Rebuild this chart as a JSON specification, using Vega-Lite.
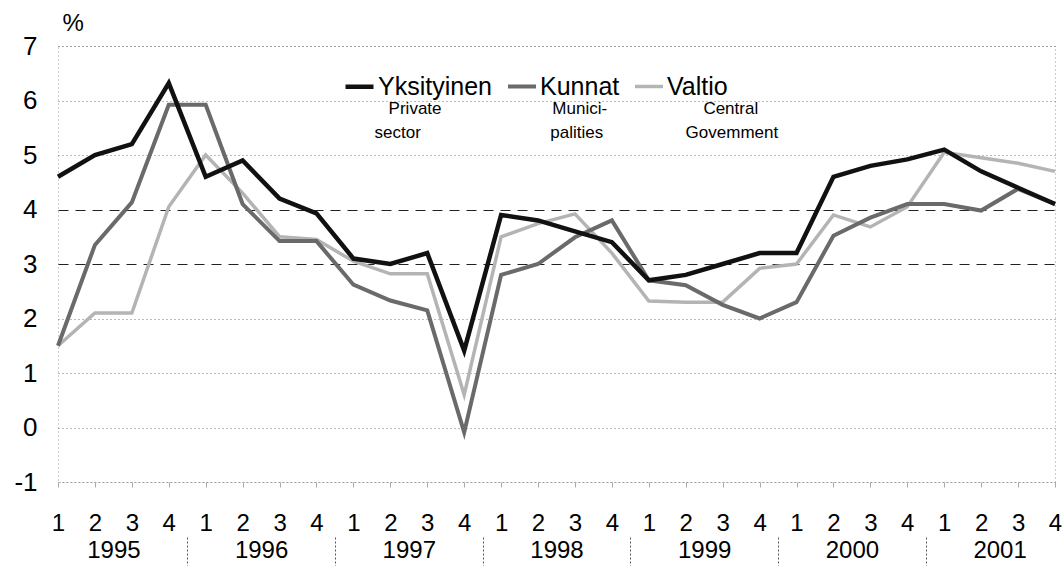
{
  "$schema": "https://vega.github.io/schema/vega-lite/v6.json",
  "width": 997,
  "height": 436,
  "autosize": {"type": "none"},
  "padding": {"left": 58, "top": 46, "right": 8, "bottom": 84},
  "background": "white",
  "config": {
    "font": "Liberation Sans",
    "view": {"stroke": "#999999", "strokeDash": [1, 3], "strokeWidth": 1}
  },
  "datasets": {
    "series": [
      {"i": 0, "series": "Valtio", "value": 1.5}, {"i": 1, "series": "Valtio", "value": 2.1}, {"i": 2, "series": "Valtio", "value": 2.1}, {"i": 3, "series": "Valtio", "value": 4.05},
      {"i": 4, "series": "Valtio", "value": 5.0}, {"i": 5, "series": "Valtio", "value": 4.3}, {"i": 6, "series": "Valtio", "value": 3.5}, {"i": 7, "series": "Valtio", "value": 3.45},
      {"i": 8, "series": "Valtio", "value": 3.05}, {"i": 9, "series": "Valtio", "value": 2.82}, {"i": 10, "series": "Valtio", "value": 2.82}, {"i": 11, "series": "Valtio", "value": 0.6},
      {"i": 12, "series": "Valtio", "value": 3.5}, {"i": 13, "series": "Valtio", "value": 3.74}, {"i": 14, "series": "Valtio", "value": 3.92}, {"i": 15, "series": "Valtio", "value": 3.2},
      {"i": 16, "series": "Valtio", "value": 2.32}, {"i": 17, "series": "Valtio", "value": 2.3}, {"i": 18, "series": "Valtio", "value": 2.3}, {"i": 19, "series": "Valtio", "value": 2.92},
      {"i": 20, "series": "Valtio", "value": 3.0}, {"i": 21, "series": "Valtio", "value": 3.9}, {"i": 22, "series": "Valtio", "value": 3.68}, {"i": 23, "series": "Valtio", "value": 4.05},
      {"i": 24, "series": "Valtio", "value": 5.05}, {"i": 25, "series": "Valtio", "value": 4.95}, {"i": 26, "series": "Valtio", "value": 4.85}, {"i": 27, "series": "Valtio", "value": 4.7},
      {"i": 0, "series": "Kunnat", "value": 1.5}, {"i": 1, "series": "Kunnat", "value": 3.35}, {"i": 2, "series": "Kunnat", "value": 4.13}, {"i": 3, "series": "Kunnat", "value": 5.92},
      {"i": 4, "series": "Kunnat", "value": 5.92}, {"i": 5, "series": "Kunnat", "value": 4.1}, {"i": 6, "series": "Kunnat", "value": 3.42}, {"i": 7, "series": "Kunnat", "value": 3.42},
      {"i": 8, "series": "Kunnat", "value": 2.62}, {"i": 9, "series": "Kunnat", "value": 2.33}, {"i": 10, "series": "Kunnat", "value": 2.15}, {"i": 11, "series": "Kunnat", "value": -0.09},
      {"i": 12, "series": "Kunnat", "value": 2.8}, {"i": 13, "series": "Kunnat", "value": 3.0}, {"i": 14, "series": "Kunnat", "value": 3.49}, {"i": 15, "series": "Kunnat", "value": 3.8},
      {"i": 16, "series": "Kunnat", "value": 2.7}, {"i": 17, "series": "Kunnat", "value": 2.61}, {"i": 18, "series": "Kunnat", "value": 2.25}, {"i": 19, "series": "Kunnat", "value": 2.0},
      {"i": 20, "series": "Kunnat", "value": 2.3}, {"i": 21, "series": "Kunnat", "value": 3.52}, {"i": 22, "series": "Kunnat", "value": 3.85}, {"i": 23, "series": "Kunnat", "value": 4.1},
      {"i": 24, "series": "Kunnat", "value": 4.1}, {"i": 25, "series": "Kunnat", "value": 3.98}, {"i": 26, "series": "Kunnat", "value": 4.38}, {"i": 27, "series": "Kunnat", "value": 4.1},
      {"i": 0, "series": "Yksityinen", "value": 4.6}, {"i": 1, "series": "Yksityinen", "value": 5.0}, {"i": 2, "series": "Yksityinen", "value": 5.2}, {"i": 3, "series": "Yksityinen", "value": 6.32},
      {"i": 4, "series": "Yksityinen", "value": 4.6}, {"i": 5, "series": "Yksityinen", "value": 4.9}, {"i": 6, "series": "Yksityinen", "value": 4.2}, {"i": 7, "series": "Yksityinen", "value": 3.93},
      {"i": 8, "series": "Yksityinen", "value": 3.1}, {"i": 9, "series": "Yksityinen", "value": 3.0}, {"i": 10, "series": "Yksityinen", "value": 3.2}, {"i": 11, "series": "Yksityinen", "value": 1.41},
      {"i": 12, "series": "Yksityinen", "value": 3.9}, {"i": 13, "series": "Yksityinen", "value": 3.8}, {"i": 14, "series": "Yksityinen", "value": 3.6}, {"i": 15, "series": "Yksityinen", "value": 3.4},
      {"i": 16, "series": "Yksityinen", "value": 2.7}, {"i": 17, "series": "Yksityinen", "value": 2.8}, {"i": 18, "series": "Yksityinen", "value": 3.0}, {"i": 19, "series": "Yksityinen", "value": 3.2},
      {"i": 20, "series": "Yksityinen", "value": 3.2}, {"i": 21, "series": "Yksityinen", "value": 4.6}, {"i": 22, "series": "Yksityinen", "value": 4.8}, {"i": 23, "series": "Yksityinen", "value": 4.92},
      {"i": 24, "series": "Yksityinen", "value": 5.1}, {"i": 25, "series": "Yksityinen", "value": 4.7}, {"i": 26, "series": "Yksityinen", "value": 4.4}, {"i": 27, "series": "Yksityinen", "value": 4.1}
    ],
    "notes": [
      {"text": "Private", "i": 9.67, "v": 5.85},
      {"text": "sector", "i": 9.2, "v": 5.4},
      {"text": "Munici-", "i": 14.13, "v": 5.85},
      {"text": "palities", "i": 14.05, "v": 5.4},
      {"text": "Central", "i": 18.22, "v": 5.85},
      {"text": "Govemment", "i": 18.25, "v": 5.4}
    ]
  },
  "layer": [
    {
      "data": {"name": "series"},
      "mark": {"type": "line", "strokeJoin": "miter", "strokeCap": "butt"},
      "encoding": {
        "x": {
          "field": "i", "type": "quantitative",
          "scale": {"domain": [0, 27], "nice": false, "zero": false},
          "axis": {
            "values": [0,1,2,3,4,5,6,7,8,9,10,11,12,13,14,15,16,17,18,19,20,21,22,23,24,25,26,27],
            "labelExpr": "'' + (datum.value % 4 + 1)",
            "labelFontSize": 24, "labelColor": "#000000", "labelPadding": 24,
            "labelFlush": false, "labelOverlap": false,
            "grid": false, "domain": false,
            "ticks": true, "tickSize": 5, "tickColor": "#aaaaaa",
            "title": null
          }
        },
        "y": {
          "field": "value", "type": "quantitative",
          "scale": {"domain": [-1, 7], "nice": false, "zero": false},
          "axis": {
            "values": [-1,0,1,2,3,4,5,6,7],
            "labelExpr": "'' + datum.value",
            "labelFontSize": 26, "labelColor": "#000000", "labelPadding": 21,
            "ticks": false, "domain": false,
            "grid": true,
            "gridDash": {"condition": {"test": "datum.value === 3 || datum.value === 4", "value": [10, 7]}, "value": [1, 3]},
            "gridColor": {"condition": {"test": "datum.value === 3 || datum.value === 4", "value": "#222222"}, "value": "#777777"},
            "gridWidth": 1,
            "title": "%", "titleAngle": 0, "titleFontSize": 24, "titleFontWeight": "normal",
            "titleX": 4, "titleY": -23, "titleAlign": "left", "titleBaseline": "middle", "titleColor": "#000000"
          }
        },
        "stroke": {
          "field": "series", "type": "nominal",
          "scale": {"domain": ["Yksityinen", "Kunnat", "Valtio"], "range": ["#111111", "#6a6a6a", "#b4b4b4"]},
          "legend": {
            "orient": "none", "legendX": 285, "legendY": 24, "direction": "horizontal",
            "title": null, "symbolType": "stroke", "symbolSize": 784,
            "labelFontSize": 25, "labelColor": "#000000", "labelOffset": 2, "columnPadding": 8,
            "padding": 0
          }
        },
        "strokeWidth": {
          "field": "series", "type": "nominal",
          "scale": {"domain": ["Yksityinen", "Kunnat", "Valtio"], "range": [4.5, 3.5, 3]}
        }
      }
    },
    {
      "data": {"name": "series"},
      "mark": {"type": "rule", "opacity": 0},
      "encoding": {
        "x": {
          "field": "i", "type": "quantitative",
          "scale": {"domain": [0, 27], "nice": false, "zero": false},
          "axis": {
            "orient": "bottom",
            "values": [1.5, 5.5, 9.5, 13.5, 17.5, 21.5, 25.5],
            "labelExpr": "'' + (1995 + floor(datum.value / 4))",
            "labelFontSize": 24, "labelColor": "#000000", "labelPadding": 56,
            "labelFlush": false, "labelOverlap": false,
            "ticks": false, "domain": false, "grid": false, "title": null
          }
        }
      }
    },
    {
      "data": {"name": "series"},
      "mark": {"type": "rule", "opacity": 0},
      "encoding": {
        "x": {
          "field": "i", "type": "quantitative",
          "scale": {"domain": [0, 27], "nice": false, "zero": false},
          "axis": {
            "orient": "bottom", "offset": 55,
            "values": [3.5, 7.5, 11.5, 15.5, 19.5, 23.5],
            "labels": false, "ticks": true, "tickSize": 30, "tickDash": [2, 2], "tickColor": "#555555",
            "domain": false, "grid": false, "title": null
          }
        }
      }
    },
    {
      "data": {"name": "notes"},
      "mark": {"type": "text", "fontSize": 17, "align": "center", "baseline": "middle", "color": "#000000"},
      "encoding": {
        "x": {"field": "i", "type": "quantitative", "scale": {"domain": [0, 27], "nice": false, "zero": false}, "axis": null},
        "y": {"field": "v", "type": "quantitative"},
        "text": {"field": "text"}
      }
    }
  ],
  "resolve": {"scale": {"x": "independent"}}
}
